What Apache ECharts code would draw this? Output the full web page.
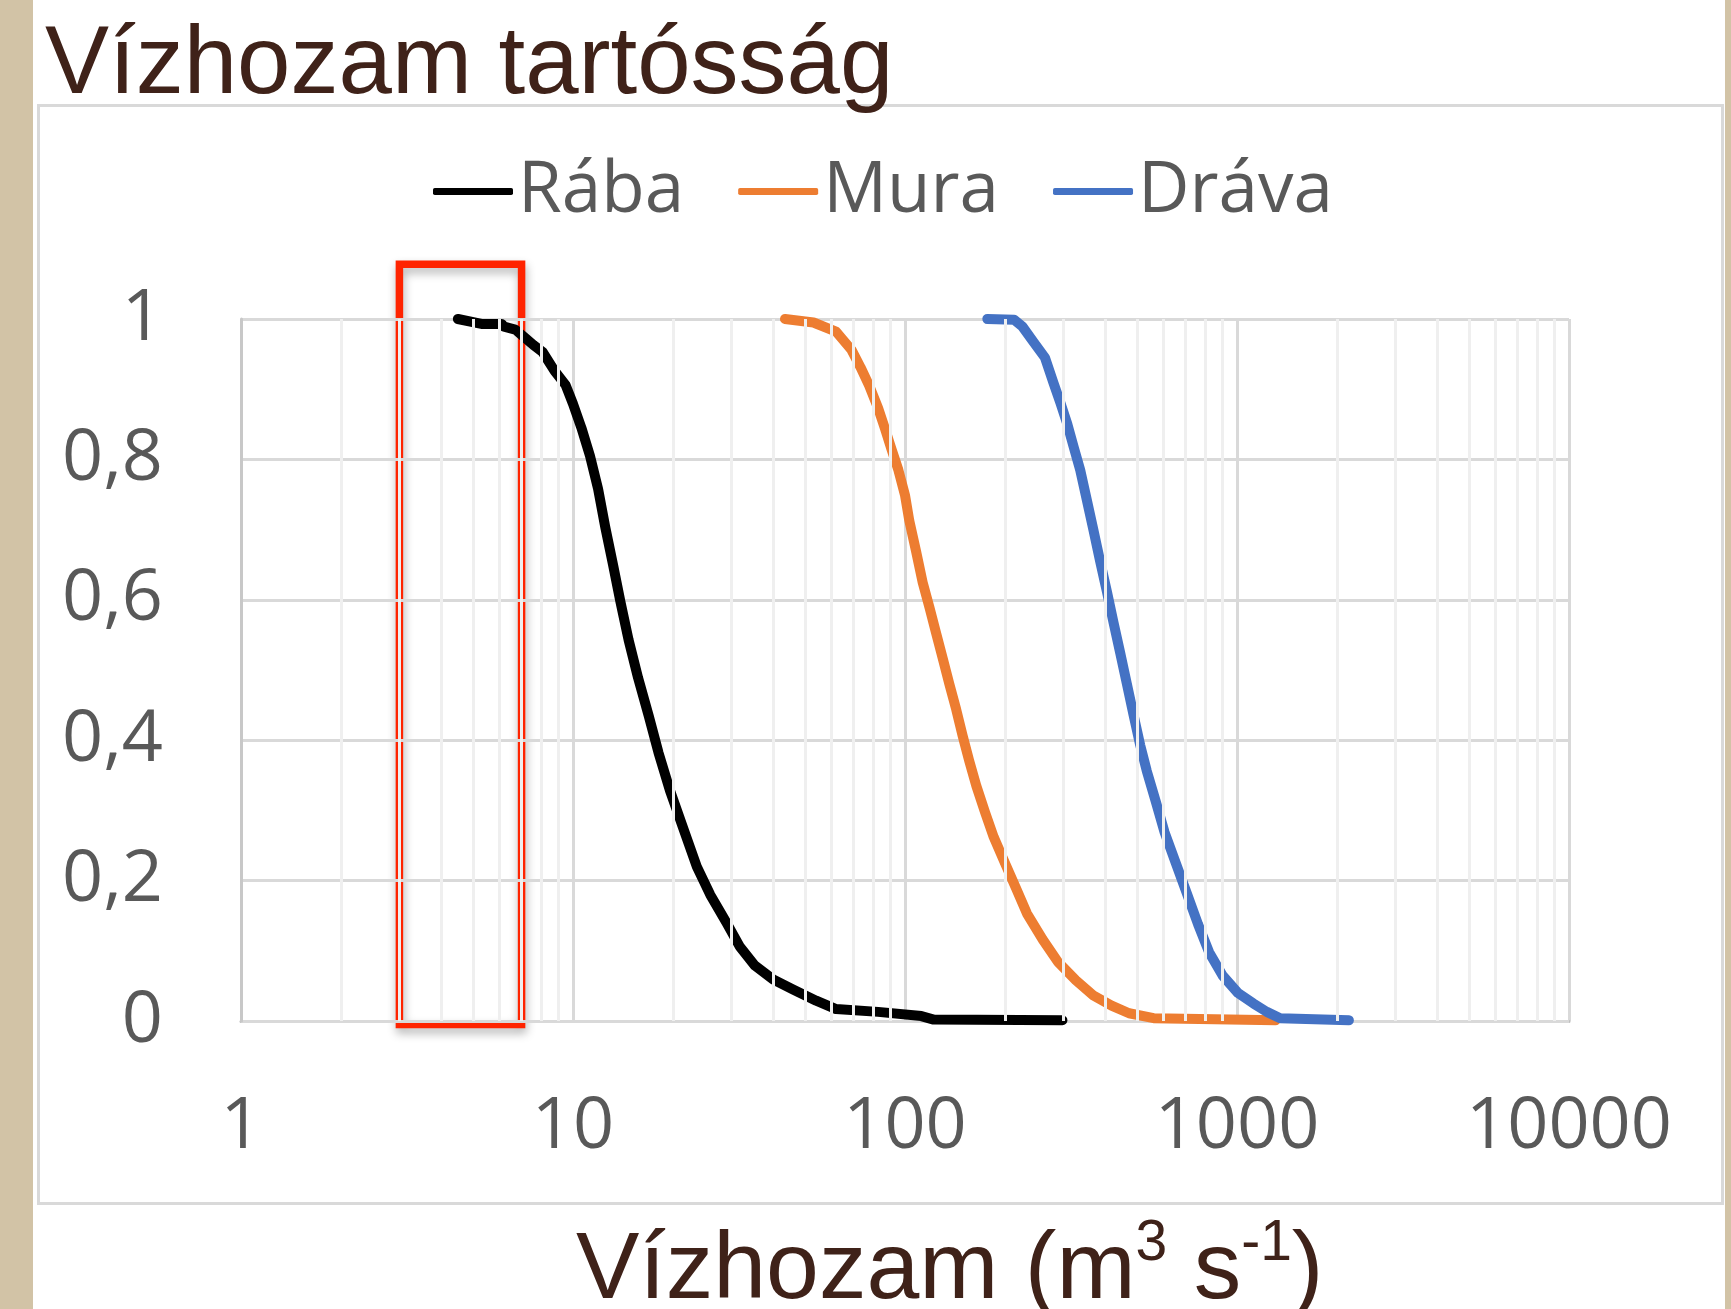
<!DOCTYPE html>
<html>
<head>
<meta charset="utf-8">
<script src="https://cdn.jsdelivr.net/npm/echarts@6/dist/echarts.min.js"></script>
<style>
html,body{margin:0;padding:0;background:#fff;}
#chart{width:1731px;height:1309px;}
</style>
</head>
<body>
<div id="chart"></div>
<script>
// ---- Data (x = discharge m3/s, y = exceedance fraction) ----
const seriesNames = ['Rába', 'Mura', 'Dráva'];

const rabaQ = [4.5, 5.3, 6.1, 6.2, 6.7, 7.1, 7.6, 8.1, 8.8, 9.5, 10.0, 10.6, 11.25, 11.9, 12.5, 13.2, 13.9, 14.7, 15.7, 16.9, 18.1, 19.6, 21.5, 23.6, 25.9, 29.0, 31.8, 35.3, 40.1, 46, 54, 62, 83, 112, 122, 298];
const rabaP = [1.0, 0.993, 0.993, 0.989, 0.985, 0.975, 0.963, 0.953, 0.926, 0.906, 0.879, 0.845, 0.805, 0.758, 0.704, 0.65, 0.597, 0.543, 0.489, 0.435, 0.382, 0.328, 0.274, 0.22, 0.18, 0.14, 0.106, 0.079, 0.059, 0.045, 0.029, 0.017, 0.013, 0.007, 0.002, 0.001];

const muraQ = [43.5, 53, 62, 69, 73.5, 78, 83, 87, 91, 95.5, 100, 103, 108, 113, 118.5, 124, 130, 136, 142.6, 149, 156, 164, 174, 185, 200, 216, 233, 260, 289, 327, 370, 419, 473, 561, 1306];
const muraP = [1.0, 0.995, 0.982, 0.956, 0.931, 0.905, 0.873, 0.844, 0.815, 0.785, 0.749, 0.713, 0.669, 0.625, 0.589, 0.553, 0.516, 0.48, 0.444, 0.407, 0.371, 0.335, 0.298, 0.262, 0.225, 0.189, 0.153, 0.116, 0.084, 0.058, 0.036, 0.022, 0.011, 0.004, 0.001];

const dravaQ = [177, 213, 226, 244, 264, 280, 294, 308, 322, 337, 353, 370, 387, 406, 425, 445, 466, 488, 511, 535, 569, 605, 654, 706, 763, 824, 904, 1006, 1120, 1230, 1349, 2173];
const dravaP = [1.0, 0.999, 0.989, 0.967, 0.945, 0.909, 0.88, 0.851, 0.818, 0.785, 0.742, 0.698, 0.655, 0.611, 0.567, 0.524, 0.48, 0.436, 0.393, 0.356, 0.313, 0.269, 0.225, 0.182, 0.138, 0.098, 0.065, 0.04, 0.025, 0.013, 0.004, 0.001];

const yTicks = [0, 0.2, 0.4, 0.6, 0.8, 1];
const xTicks = [1, 10, 100, 1000, 10000];
const minorGridQ = [2,3,4,5,6,7,8,9, 20,30,40,50,60,70,80,90, 200,300,400,500,600,700,800,900, 2000,3000,4000,5000,6000,7000,8000,9000];
const highlightQ = [3, 7];          // red annotation box, discharge range
const highlightP = [-0.005, 1.078]; // red annotation box, fraction range

const titleText = 'Vízhozam tartósság';
const xTitleParts = ['Vízhozam (m', '3', ' s', '-1', ')'];

// ---- build ----
function zip(a, b) { return a.map((v, i) => [v, b[i]]); }
const colors = ['#000000', '#ED7D31', '#4472C4'];
const widths = [10, 10, 10];
const dataSets = [zip(rabaQ, rabaP), zip(muraQ, muraP), zip(dravaQ, dravaP)];

const chart = echarts.init(document.getElementById('chart'), null, {renderer: 'canvas'});

const series = seriesNames.map((n, i) => ({
  name: n, type: 'line', data: dataSets[i], symbol: 'none', showSymbol: false, z: 4, clip: false,
  lineStyle: {color: colors[i], width: widths[i], cap: 'round', join: 'round'},
  itemStyle: {color: colors[i]}
}));
series.push({
  name: 'minor', type: 'line', data: [], z: 1, silent: true,
  markLine: {
    silent: true, symbol: ['none', 'none'], label: {show: false},
    lineStyle: {color: '#efefef', width: 3, type: 'solid'},
    data: minorGridQ.map(v => ({xAxis: v}))
  }
});

const baseGraphics = [
  {id: 'bgL', type: 'rect', left: 0, top: 0, shape: {width: 33, height: 1309}, style: {fill: '#d2c3a6'}, z: -10},
  {id: 'bgR', type: 'rect', left: 1725, top: 0, shape: {width: 6, height: 1309}, style: {fill: '#d2c3a6'}, z: -10},
  {id: 'box', type: 'rect', left: 37, top: 104, shape: {width: 1684, height: 1098}, style: {fill: '#fff', stroke: '#d9d9d9', lineWidth: 3}, z: -9}
];

const option = {
  animation: false,
  backgroundColor: '#ffffff',
  graphic: baseGraphics,
  title: [
    {text: titleText, left: 40, top: 14,
     textStyle: {fontFamily: 'Liberation Sans', fontSize: 96, fontWeight: 'normal', color: '#3f2219'}},
    {text: '{a|' + xTitleParts[0] + '}{s|' + xTitleParts[1] + '}{a|' + xTitleParts[2] + '}{s|' + xTitleParts[3] + '}{a|' + xTitleParts[4] + '}',
     left: 571, top: 1204,
     textStyle: {fontWeight: 'normal', rich: {
       a: {fontFamily: 'Liberation Sans', fontSize: 95, fontWeight: 'normal', color: '#3f2219', lineHeight: 110, verticalAlign: 'bottom'},
       s: {fontFamily: 'Liberation Sans', fontSize: 57, fontWeight: 'normal', color: '#3f2219', lineHeight: 97, padding: [7, 0, 0, 0], verticalAlign: 'top'}
     }}}
  ],
  legend: {
    data: seriesNames, left: 433, top: 156, padding: 0, itemGap: 54, itemWidth: 80, itemHeight: 7,
    icon: 'roundRect',
    textStyle: {fontFamily: 'Open Sans', fontSize: 71, color: '#595959'}
  },
  grid: {left: 241, right: 162, top: 319, bottom: 288, containLabel: false},
  xAxis: {
    type: 'log', logBase: 10, min: xTicks[0], max: xTicks[xTicks.length - 1],
    axisLine: {show: true, lineStyle: {color: '#bfbfbf', width: 3}},
    axisTick: {show: false},
    axisLabel: {fontFamily: 'Open Sans', fontSize: 72, color: '#595959', margin: 70,
      formatter: v => String(Math.round(v))},
    splitLine: {show: true, lineStyle: {color: '#d9d9d9', width: 3}}
  },
  yAxis: {
    type: 'value', min: yTicks[0], max: yTicks[yTicks.length - 1], interval: 0.2, z: 2,
    axisLine: {show: true, lineStyle: {color: '#c8c8c8', width: 3}},
    axisTick: {show: false},
    axisLabel: {fontFamily: 'Open Sans', fontSize: 72, color: '#595959', margin: 78,
      formatter: v => String(+v.toFixed(1)).replace('.', ',')},
    splitLine: {show: true, lineStyle: {color: '#d9d9d9', width: 3}}
  },
  series: series
};
chart.setOption(option);

// red annotation rectangle, positioned through the chart's own scales
const p0 = chart.convertToPixel({gridIndex: 0}, [highlightQ[0], highlightP[1]]);
const p1 = chart.convertToPixel({gridIndex: 0}, [highlightQ[1], highlightP[0]]);
chart.setOption({
  graphic: baseGraphics.concat([{
    id: 'redbox', type: 'rect', z: 1,
    shape: {x: p0[0], y: p0[1], width: p1[0] - p0[0], height: p1[1] - p0[1]},
    style: {fill: 'rgba(0,0,0,0)', stroke: '#FF2400', lineWidth: 7.5,
      shadowBlur: 10, shadowColor: 'rgba(0,0,0,0.3)', shadowOffsetX: 1, shadowOffsetY: 5}
  }])
});
</script>
</body>
</html>
